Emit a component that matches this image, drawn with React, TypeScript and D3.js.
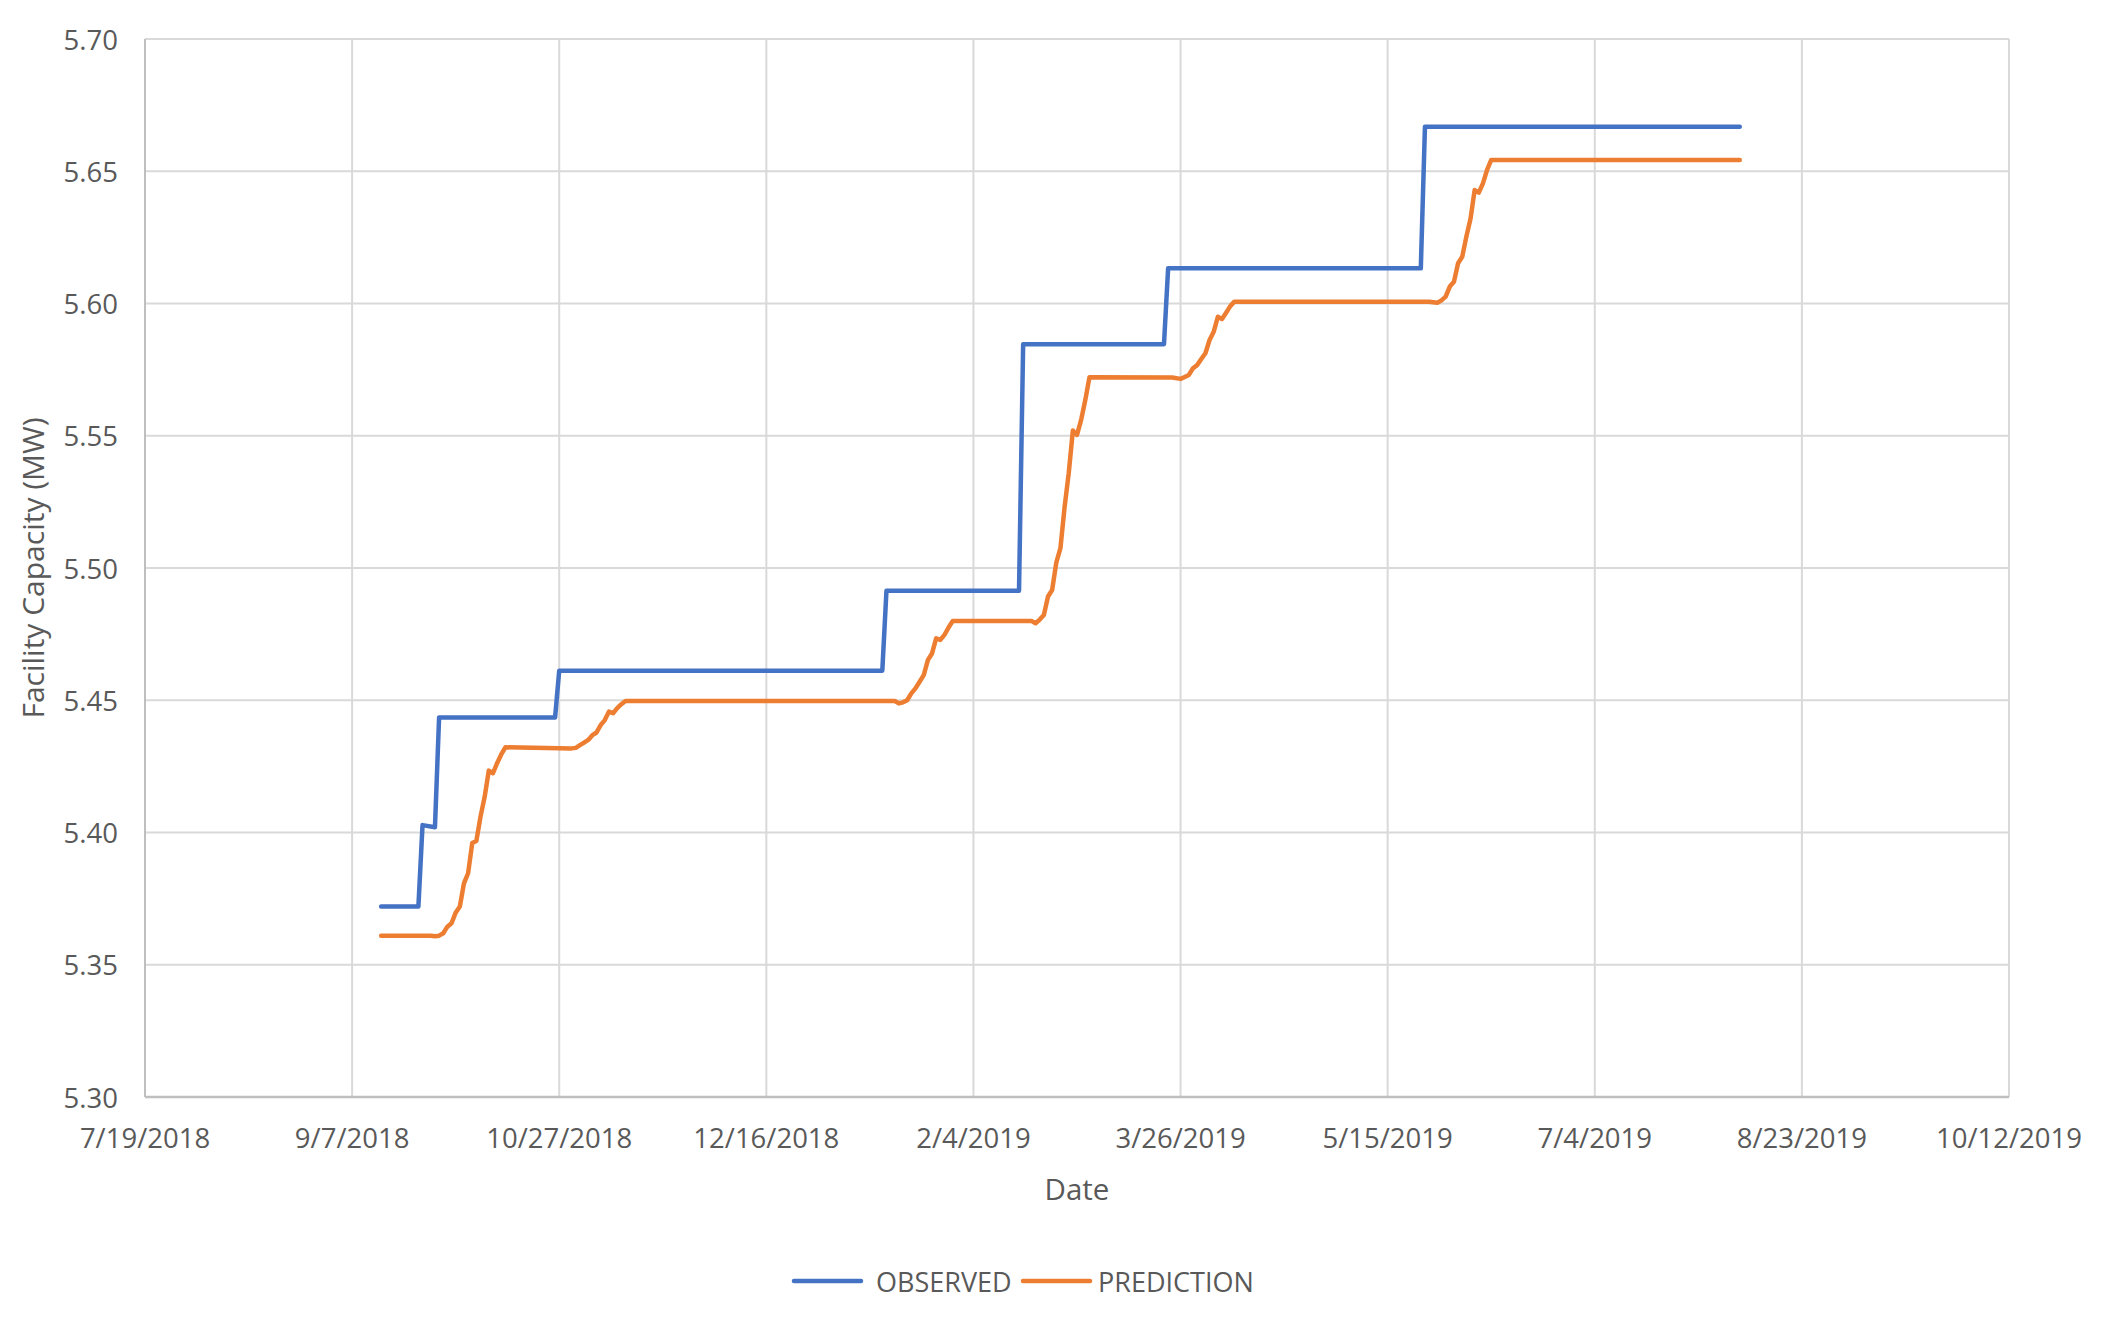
import React from "react";
import * as d3 from "d3";

const observedDates = [
  "2018-09-14", "2018-09-23", "2018-09-24", "2018-09-27", "2018-09-28",
  "2018-10-26", "2018-10-27", "2019-01-13", "2019-01-14", "2019-02-15",
  "2019-02-16", "2019-03-22", "2019-03-23", "2019-05-23", "2019-05-24",
  "2019-08-08",
];
const observedValues = [
  5.372, 5.372, 5.4028, 5.402, 5.4435,
  5.4435, 5.4612, 5.4612, 5.4914, 5.4914,
  5.5846, 5.5846, 5.6133, 5.6133, 5.6668,
  5.6668,
];

const predictionDates = [
  "2018-09-14", "2018-09-26", "2018-09-27", "2018-09-28", "2018-09-29", "2018-09-30",
  "2018-10-01", "2018-10-02", "2018-10-03", "2018-10-04", "2018-10-05", "2018-10-06",
  "2018-10-07", "2018-10-08", "2018-10-09", "2018-10-10", "2018-10-11", "2018-10-12",
  "2018-10-13", "2018-10-14", "2018-10-30", "2018-10-31", "2018-11-01", "2018-11-02",
  "2018-11-03", "2018-11-04", "2018-11-05", "2018-11-06", "2018-11-07", "2018-11-08",
  "2018-11-09", "2018-11-10", "2018-11-11", "2018-11-12",
  "2019-01-16", "2019-01-17", "2019-01-18", "2019-01-19", "2019-01-20", "2019-01-21",
  "2019-01-22", "2019-01-23", "2019-01-24", "2019-01-25", "2019-01-26", "2019-01-27",
  "2019-01-28", "2019-01-29", "2019-01-30",
  "2019-02-18", "2019-02-19", "2019-02-20", "2019-02-21", "2019-02-22", "2019-02-23",
  "2019-02-24", "2019-02-25", "2019-02-26", "2019-02-27", "2019-02-28", "2019-03-01",
  "2019-03-02", "2019-03-03", "2019-03-04",
  "2019-03-24", "2019-03-26", "2019-03-27", "2019-03-28", "2019-03-29", "2019-03-30",
  "2019-03-31", "2019-04-01", "2019-04-02", "2019-04-03", "2019-04-04", "2019-04-05",
  "2019-04-06", "2019-04-07", "2019-04-08",
  "2019-05-25", "2019-05-27", "2019-05-28", "2019-05-29", "2019-05-30", "2019-05-31",
  "2019-06-01", "2019-06-02", "2019-06-03", "2019-06-04", "2019-06-05", "2019-06-06",
  "2019-06-07", "2019-06-08", "2019-06-09", "2019-08-08",
];
const predictionValues = [
  5.361, 5.361, 5.3608, 5.361, 5.3619, 5.3644,
  5.3657, 5.3697, 5.372, 5.3808, 5.3846, 5.396,
  5.3968, 5.406, 5.4135, 5.4234, 5.4224, 5.4262,
  5.4295, 5.4322, 5.4318, 5.432, 5.433, 5.434,
  5.435, 5.4368, 5.4378, 5.4406, 5.4425, 5.4457,
  5.4451, 5.447, 5.4485, 5.4497,
  5.4497, 5.4488, 5.4492, 5.45, 5.4526, 5.4545,
  5.457, 5.4595, 5.4652, 5.4677, 5.4734, 5.4728,
  5.4747, 5.4775, 5.48,
  5.48, 5.4791, 5.4805, 5.4822, 5.4892, 5.4917,
  5.502, 5.5075, 5.523, 5.5358, 5.552, 5.5503,
  5.556, 5.5635, 5.5721,
  5.572, 5.5715, 5.5722, 5.573, 5.5755, 5.5767,
  5.579, 5.5812, 5.5862, 5.5893, 5.595, 5.5941,
  5.5965, 5.599, 5.6007,
  5.6007, 5.6003, 5.6012, 5.6026, 5.6064, 5.6082,
  5.6152, 5.6177, 5.6253, 5.632, 5.6429, 5.6419,
  5.6454, 5.6505, 5.6543, 5.6543,
];

const xTickDates = [
  "2018-07-19", "2018-09-07", "2018-10-27", "2018-12-16", "2019-02-04",
  "2019-03-26", "2019-05-15", "2019-07-04", "2019-08-23", "2019-10-12",
];
const yTicks = [5.3, 5.35, 5.4, 5.45, 5.5, 5.55, 5.6, 5.65, 5.7];

const seriesNames = ["OBSERVED", "PREDICTION"];
const seriesColors = ["#4472C4", "#ED7D31"];

const W = 2103;
const H = 1317;
const left = 145;
const right = 2009;
const top = 39;
const bottom = 1097;
const FONT = "'Open Sans', 'Noto Sans', sans-serif";
const TEXT = "#595959";

export default function App() {
  const parse = d3.timeParse("%Y-%m-%d");
  const fmt = d3.timeFormat("%-m/%-d/%Y");
  const xTicks = xTickDates.map((d) => parse(d) as Date);
  const x = d3
    .scaleTime()
    .domain([xTicks[0], xTicks[xTicks.length - 1]])
    .range([left, right]);
  const y = d3.scaleLinear().domain([5.3, 5.7]).range([bottom, top]);

  const series = [
    observedDates.map((d, i) => ({ date: parse(d) as Date, v: observedValues[i] })),
    predictionDates.map((d, i) => ({ date: parse(d) as Date, v: predictionValues[i] })),
  ];
  const line = d3
    .line<{ date: Date; v: number }>()
    .x((d) => x(d.date))
    .y((d) => y(d.v));

  const legendY = 1281;
  const legendItems = [
    { x1: 794, x2: 861, tx: 876 },
    { x1: 1023, x2: 1090, tx: 1098 },
  ];

  return (
    <svg width={W} height={H} style={{ display: "block", position: "absolute", left: 0, top: 0 }}>
      <rect x={0} y={0} width={W} height={H} fill="#ffffff" />
      {yTicks.map((t) => (
        <line key={"gy" + t} x1={left} x2={right} y1={y(t)} y2={y(t)} stroke="#d9d9d9" strokeWidth={2} />
      ))}
      {xTicks.map((t, i) => (
        <line key={"gx" + i} x1={x(t)} x2={x(t)} y1={top} y2={bottom} stroke="#d9d9d9" strokeWidth={2} />
      ))}
      <line x1={left} x2={left} y1={top} y2={bottom} stroke="#bfbfbf" strokeWidth={2} />
      <line x1={left} x2={right} y1={bottom} y2={bottom} stroke="#bfbfbf" strokeWidth={2.5} />
      {yTicks.map((t) => (
        <text key={"ty" + t} x={118} y={y(t)} textAnchor="end" dominantBaseline="central"
          fontFamily={FONT} fontSize={27.5} fill={TEXT}>
          {t.toFixed(2)}
        </text>
      ))}
      {xTicks.map((t, i) => (
        <text key={"tx" + i} x={x(t)} y={1137} textAnchor="middle" dominantBaseline="central"
          fontFamily={FONT} fontSize={27.5} fill={TEXT}>
          {fmt(t)}
        </text>
      ))}
      <text x={1077} y={1188} textAnchor="middle" dominantBaseline="central"
        fontFamily={FONT} fontSize={29.5} fill={TEXT}>
        Date
      </text>
      <text transform={`translate(32, ${(top + bottom) / 2}) rotate(-90)`} textAnchor="middle"
        dominantBaseline="central" fontFamily={FONT} fontSize={30} fill={TEXT}>
        Facility Capacity (MW)
      </text>
      {series.map((s, i) => (
        <path key={"s" + i} d={line(s) || ""} fill="none" stroke={seriesColors[i]} strokeWidth={4.5}
          strokeLinejoin="round" strokeLinecap="round" />
      ))}
      {legendItems.map((l, i) => (
        <g key={"lg" + i}>
          <line x1={l.x1} x2={l.x2} y1={legendY} y2={legendY} stroke={seriesColors[i]} strokeWidth={4.5} strokeLinecap="round" />
          <text x={l.tx} y={legendY} dominantBaseline="central" fontFamily={FONT} fontSize={27} fill={TEXT}>
            {seriesNames[i]}
          </text>
        </g>
      ))}
    </svg>
  );
}
